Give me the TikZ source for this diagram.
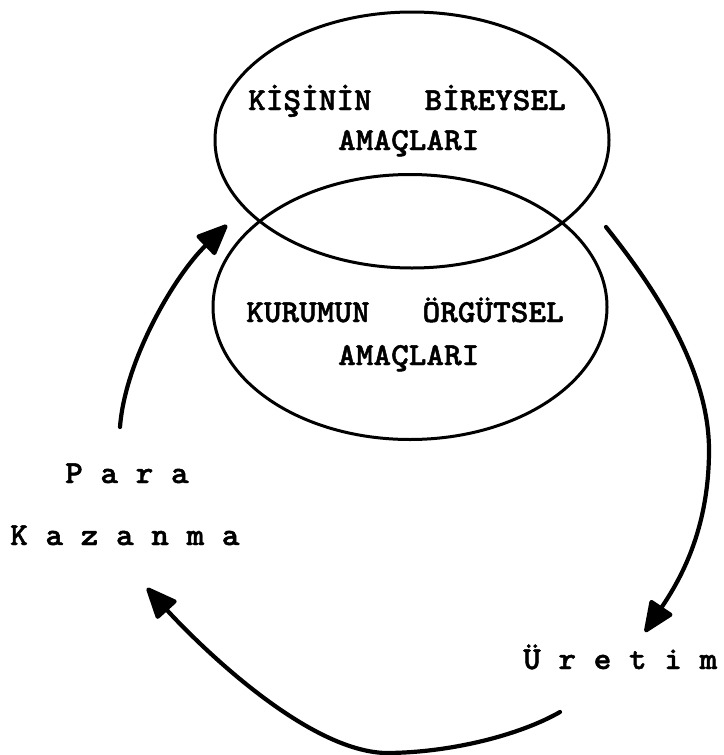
\documentclass[tikz,border=0pt]{standalone}
\usepackage{fontspec}
\newfontfamily\typewriter{lmmonolt10-bold.otf}[FakeStretch=1.05,FakeBold=1.5]
\usetikzlibrary{shapes.geometric,arrows.meta}
\tikzset{
  venn/.style={draw, ellipse, line width=3pt, inner sep=0pt},
  typed/.style={anchor=base west, inner sep=0pt, font=\fontsize{32}{33}\typewriter},
  cyc/.style={line width=4.2pt, line cap=round, -{Triangle[length=34pt,width=28pt,round]}}
}
\begin{document}
\begin{tikzpicture}[x=1pt,y=-1pt]
\useasboundingbox (0,0) rectangle (723,755);
% ellipses
\node[venn, minimum width=394pt, minimum height=256pt] (top) at (412,140) {};
\node[venn, minimum width=394pt, minimum height=265pt] (bot) at (410,307) {};
% texts
\node[typed] (k1) at (248,110) {KİŞİNİN\ \ \ BİREYSEL};
\node[typed] (k2) at (338,150) {AMAÇLARI};
\node[typed] (o1) at (246,322) {KURUMUN\ \ \ ÖRGÜTSEL};
\node[typed] (o2) at (338,365) {AMAÇLARI};
\node[typed] (pa) at (65,483) {P a r a};
\node[typed] (ka) at (10,545) {K a z a n m a};
\node[typed] (ur) at (523,669) {Ü r e t i m};
% arrow end points
\coordinate (a1s) at (120,427);
\coordinate (a1e) at (227,225);
\coordinate (a2s) at (606,227);
\coordinate (a2m) at (709,450);
\coordinate (a2e) at (645,632);
\coordinate (a3s) at (560,712);
\coordinate (a3m) at (385,753);
\coordinate (a3e) at (147,588);
% arrows
\draw[cyc] (a1s) .. controls (125,360) and (175,275) .. (a1e);
\draw[cyc] (a2s) .. controls (640,270) and (709,360) .. (a2m)
              .. controls (709,530) and (680,580) .. (a2e);
\draw[cyc] (a3s) .. controls (520,735) and (450,753) .. (a3m)
              .. controls (300,750) and (185,630) .. (a3e);
\end{tikzpicture}
\end{document}
